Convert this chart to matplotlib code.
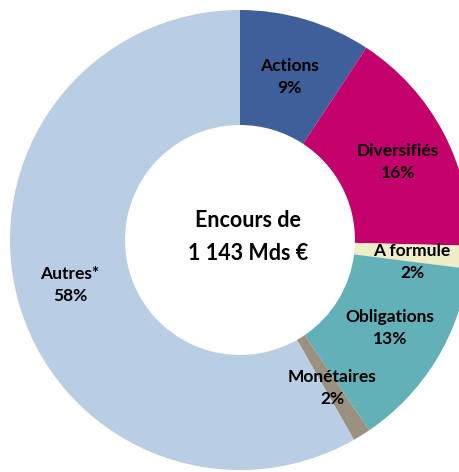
"""Donut chart: breakdown of assets under management by fund category."""

import matplotlib.pyplot as plt

categories = ["Actions", "Diversifiés", "A formule", "Obligations", "Monétaires", "Autres*"]
shares = [9.25, 16.15, 1.6, 13.5, 1.25, 58.25]
pct_labels = ["9%", "16%", "2%", "13%", "2%", "58%"]
colors = ["#3E5F9A", "#C3006B", "#EEEDC6", "#62B0B8", "#9B9181", "#B9CDE4"]
center_text = "Encours de\n1 143 Mds €"

# label anchor points, in units of the outer radius
label_pos = [
    (0.213, 0.709),
    (0.687, 0.339),
    (0.748, -0.096),
    (0.652, -0.383),
    (0.400, -0.643),
    (-0.739, -0.196),
]


def main() -> None:
    plt.rcParams["font.family"] = ["Lato", "DejaVu Sans"]
    fig = plt.figure(figsize=(4.59, 4.72), dpi=100)
    # the ring is 460 px wide, slightly wider than the figure on the right
    ax = fig.add_axes([10 / 459, 2 / 472, 460 / 459, 460 / 472])
    ax.pie(
        shares,
        colors=colors,
        startangle=90,
        counterclock=False,
        radius=1.0,
        wedgeprops=dict(width=0.5, linewidth=0),
    )
    for name, pct, (x, y) in zip(categories, pct_labels, label_pos):
        ax.text(x, y, f"{name}\n{pct}", ha="center", va="center",
                fontsize=12.5, fontweight="bold", linespacing=1.5)
    ax.text(0.035, 0.013, center_text, ha="center", va="center",
            fontsize=15.5, fontweight="bold", linespacing=1.75)
    ax.set_xlim(-1, 1)
    ax.set_ylim(-1, 1)
    ax.set_aspect("auto")
    ax.axis("off")
    fig.savefig("out.png", dpi=100)
    plt.close(fig)


if __name__ == "__main__":
    main()
